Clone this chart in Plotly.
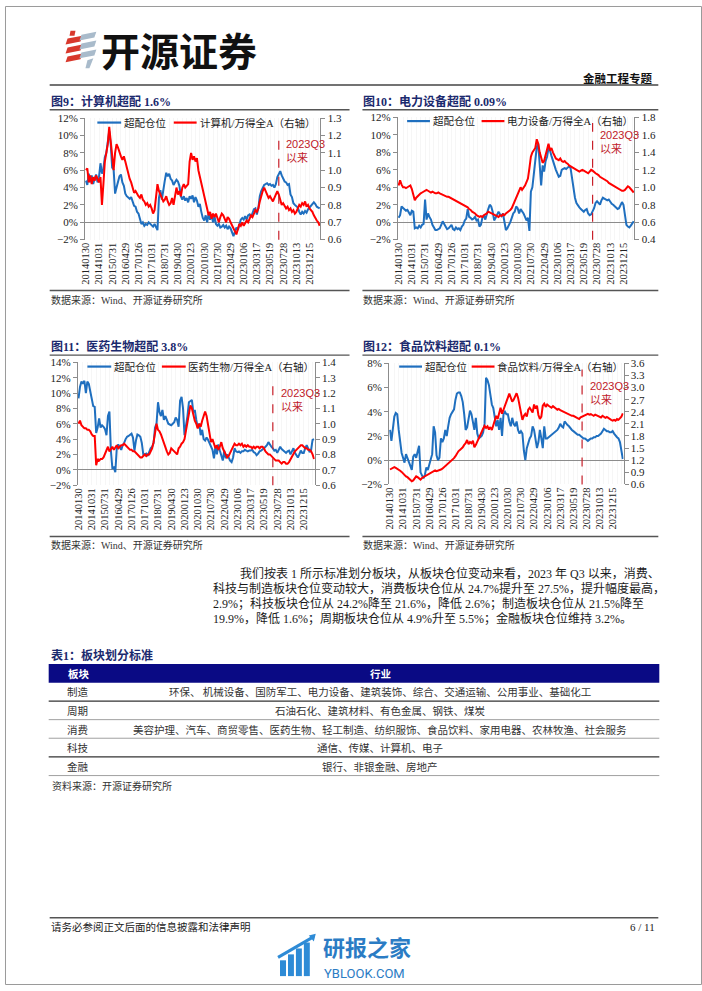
import plotly.graph_objects as go

W, H = 702, 991
def px(x): return x / W
def py(y): return 1 - y / H

SERIF = "Liberation Serif, Noto Sans CJK SC"
SANS = "Liberation Sans, Noto Sans CJK SC"
CJK = "Noto Sans CJK SC"

# ---------------- data ----------------
TICK_LABELS = ["20140130", "20141031", "20150731", "20160429", "20170126", "20171031",
               "20180731", "20190430", "20200123", "20201030", "20210730", "20220429",
               "20230106", "20230317", "20230519", "20230728", "20231013", "20231215"]
TICK_INDEX = [0, 9, 18, 27, 36, 45, 54, 63, 72, 81, 90, 99, 108, 117, 126, 135, 144, 153]
Q3_START_INDEX = 132

COMPUTER_OW = [4.8, 4.3, 5.6, 4.6, 5.4, 4.4, 5.0, 5.5, 4.6,
               5.2, 6.8, 5.6, 6.2, 7.5, 8.0, 9.0, 10.5, 9.0,
               6.3, 6.1, 3.3, 4.0, 4.6, 5.3, 5.5, 4.6, 4.2,
               3.3, 3.0, 2.8, 2.7, 2.9, 2.4, 1.9, 1.8, 1.2,
               1.0, 0.4, -0.2, 0.0, -0.4, -0.2, -0.3, 0.0, -0.2,
               -0.3, -0.5, -0.2, -0.6, -0.9, 2.8, 3.7, 2.6, 4.0,
               4.8, 5.7, 5.3, 5.6, 5.0, 4.8, 4.3, 4.6, 4.9,
               4.7, 4.2, 3.0, 2.6, 3.0, 2.5, 2.8, 2.3, 3.0,
               2.7, 3.1, 2.3, 2.9, 2.5, 1.8, 2.1, 1.2, 0.5,
               0.2, 0.8, 0.0, 1.0, 0.3, 0.9, 0.0, 0.7, -0.2,
               -0.4, -0.2, -0.6, -0.5, -0.3, -0.6, -0.4, -0.8, -0.5,
               -0.7, -1.2, -1.6, -1.1, -0.6, -0.9, -0.2, 0.3, 0.5,
               0.3, 0.7, 0.3, 0.8, 0.9, 0.6, 1.2, 1.5, 1.6,
               0.9, 1.6, 3.0, 3.6, 3.9, 4.3, 4.4, 4.5, 4.3,
               4.4, 4.2, 4.3, 4.0, 4.4, 5.2, 5.6, 5.9, 5.4,
               5.0, 4.7, 4.6, 4.3, 4.4, 3.2, 2.9, 2.2, 2.0,
               1.8, 1.7, 1.2, 0.9, 1.2, 1.0, 1.3, 1.1, 1.5,
               1.7, 1.9, 2.1, 2.3, 2.1, 1.8, 1.7, 1.6]
COMPUTER_REL = [1.00, 1.01, 0.93, 0.97, 0.92, 0.96, 0.94, 0.97, 0.95,
                0.93, 0.96, 0.80, 0.92, 1.05, 1.10, 1.15, 1.25, 1.17,
                1.05, 1.00, 1.10, 1.15, 1.13, 1.10, 1.08, 1.06, 1.08,
                1.05, 1.01, 0.98, 0.95, 0.93, 0.90, 0.87, 0.88, 0.86,
                0.85, 0.84, 0.86, 0.83, 0.82, 0.80, 0.81, 0.79, 0.80,
                0.78, 0.75, 0.77, 0.85, 0.92, 0.88, 0.86, 0.84, 0.82,
                0.83, 0.85, 0.82, 0.80, 0.81, 0.84, 0.80, 0.85, 0.90,
                0.86, 0.88, 0.85, 0.90, 0.92, 0.90, 0.91, 0.92, 1.05,
                1.10, 1.06, 1.08, 1.05, 1.07, 1.00, 0.96, 0.93, 0.88,
                0.84, 0.80, 0.77, 0.74, 0.76, 0.72, 0.75, 0.73, 0.75,
                0.72, 0.70, 0.73, 0.75, 0.74, 0.72, 0.70, 0.73, 0.72,
                0.70, 0.68, 0.66, 0.64, 0.63, 0.66, 0.69, 0.68, 0.70,
                0.68, 0.70, 0.71, 0.70, 0.72, 0.74, 0.73, 0.75, 0.77,
                0.76, 0.78, 0.82, 0.86, 0.88, 0.90, 0.88, 0.86, 0.84,
                0.85, 0.83, 0.82, 0.84, 0.86, 0.88, 0.86, 0.83, 0.80,
                0.81, 0.79, 0.78, 0.79, 0.77, 0.78, 0.76, 0.77, 0.75,
                0.76, 0.78, 0.80, 0.79, 0.81, 0.80, 0.82, 0.79, 0.80,
                0.78, 0.77, 0.76, 0.74, 0.72, 0.71, 0.70, 0.68]

POWER_OW = [0.5, 0.8, 1.8, 1.6, 1.5, 1.3, 1.4, 1.0, 0.8,
            1.3, 1.2, -0.7, -0.6, -0.7, -0.4, -0.6, -0.3, -0.2,
            2.6, 0.3, 1.0, 0.6, 0.3, -0.3, -0.6, -0.9, -0.9,
            -0.8, -0.7, -0.3, 0.1, -0.2, -0.6, -0.8, -0.7, -0.5,
            -0.3, -0.8, -0.9, -0.6, -0.8, -0.7, -0.9, -0.5, -0.3,
            0.2, 0.4, 1.5, 0.6, 0.5, 0.3, 0.4, 0.6, 0.2,
            0.3, -0.5, -0.3, 0.5, 0.8, 0.3, 1.0, 1.5, 2.0,
            1.8, 1.2, 0.2, 0.5, 0.8, 1.2, 0.9, 0.7, 1.0,
            0.2, -0.9, -0.7, -0.4, 0.0, 0.5, 1.0, 1.2, 1.8,
            1.6, 1.0, 1.5, 1.3, 1.0, 0.6, 0.2, 0.5, -1.0,
            3.5, 4.0, 5.5, 7.5, 8.6, 9.0, 7.0, 4.2, 6.5,
            5.8, 7.0, 7.5, 8.5, 8.2, 7.6, 7.0, 6.5, 6.0,
            5.6, 5.2, 5.3, 6.0, 6.1, 6.2, 6.1, 6.3, 6.4,
            6.2, 5.0, 3.6, 2.8, 2.2, 1.9, 1.7, 1.5, 1.3,
            1.2, 1.4, 1.5, 1.0, 0.8, 0.9, 1.2, 1.6, 2.2,
            2.4, 2.2, 2.0, 2.5, 2.8, 2.7, 2.6, 2.5, 2.6,
            2.3, 2.1, 2.0, 1.8, 1.7, 1.5, 1.6, 1.9, 2.3,
            2.0, 0.9, -0.3, -0.5, -0.6, -0.4, -0.1, 0.1]
POWER_REL = [1.02, 1.08, 1.03, 1.00, 1.00, 0.99, 1.00, 1.01, 1.02,
             0.98, 0.92, 0.85, 0.88, 0.90, 0.92, 0.93, 0.94, 0.95,
             0.96, 0.97, 0.96, 0.95, 0.94, 0.95, 0.94, 0.93, 0.93,
             0.94, 0.93, 0.92, 0.91, 0.90, 0.90, 0.89, 0.89, 0.88,
             0.88, 0.87, 0.86, 0.85, 0.84, 0.83, 0.82, 0.81, 0.80,
             0.79, 0.78, 0.77, 0.75, 0.74, 0.72, 0.71, 0.70, 0.68,
             0.67, 0.66, 0.67, 0.66, 0.68, 0.69, 0.70, 0.72, 0.71,
             0.70, 0.70, 0.69, 0.68, 0.67, 0.66, 0.68, 0.67, 0.69,
             0.68, 0.70, 0.71, 0.72, 0.74, 0.76, 0.80, 0.82, 0.86,
             0.90, 0.96, 1.00, 0.97, 0.99, 1.02, 1.06, 1.10, 1.22,
             1.35, 1.40, 1.42, 1.45, 1.55, 1.50, 1.40, 1.33, 1.28,
             1.30, 1.38, 1.45, 1.50, 1.42, 1.45, 1.40, 1.36, 1.33,
             1.32, 1.31, 1.33, 1.30, 1.29, 1.30, 1.28, 1.27, 1.25,
             1.24, 1.23, 1.22, 1.21, 1.20, 1.19, 1.18, 1.19, 1.20,
             1.19, 1.18, 1.17, 1.16, 1.18, 1.20, 1.19, 1.17, 1.16,
             1.15, 1.14, 1.12, 1.11, 1.10, 1.09, 1.08, 1.07, 1.05,
             1.04, 1.03, 1.02, 1.01, 1.00, 0.99, 0.98, 0.97, 0.96,
             0.96, 0.97, 0.99, 1.01, 1.00, 0.98, 0.96, 0.94]

PHARMA_OW = [9.3, 10.8, 11.5, 11.2, 11.6, 10.0, 11.5, 11.2, 10.2,
             9.0, 8.3, 8.2, 4.8, 5.5, 6.7, 5.5, 5.8, 5.6,
             5.3, 4.5, 7.0, 7.6, 2.5, 0.2, 0.3, -0.3, 2.8,
             3.3, 3.0, 2.6, 3.2, 3.5, 4.0, 4.3, 4.4, 4.5,
             4.7, 4.2, 2.5, 3.8, 4.6, 4.5, 4.3, 3.5, 2.0,
             2.0, 2.1, 1.8, 2.3, 2.8, 3.0, 3.5, 5.5, 6.0,
             8.8, 7.5, 7.0, 7.8, 6.5, 7.0, 6.5, 6.0, 5.9,
             5.8, 6.0, 6.2, 6.8, 6.5, 5.6, 9.0, 9.5, 8.0,
             4.5, 5.5, 7.0, 8.8, 9.0, 9.1, 7.5, 7.8, 6.5,
             5.5, 6.0, 4.5, 5.2, 4.0, 3.8, 4.2, 3.9, 3.5,
             3.2, 2.6, 1.5, 3.0, 2.0, 3.3, 2.5, 1.8, 1.2,
             2.5, 1.5, 2.0, 1.5, 1.2, 1.0, 1.6, 2.8, 2.4,
             2.3, 2.4, 2.2, 2.4, 2.4, 2.6, 2.5, 2.4, 2.5,
             2.5, 2.6, 2.3, 2.2, 1.9, 2.1, 2.4, 2.5, 2.6,
             2.8, 3.0, 3.2, 3.6, 3.2, 3.0, 2.8, 2.5, 2.6,
             2.2, 2.6, 3.0, 2.7, 2.5, 2.3, 2.2, 2.4, 2.5,
             2.0, 2.4, 2.8, 2.2, 1.8, 1.6, 2.0, 2.5, 2.2,
             2.2, 2.8, 3.2, 2.8, 2.3, 2.6, 3.9, 4.0]
PHARMA_REL = [1.00, 1.02, 0.99, 0.98, 0.97, 0.97, 0.96, 0.96, 0.95,
              0.93, 0.92, 0.92, 0.73, 0.77, 0.76, 0.77, 0.77, 0.78,
              0.80, 0.82, 0.85, 0.82, 0.84, 0.85, 0.83, 0.85, 0.86,
              0.84, 0.85, 0.86, 0.86, 0.87, 0.86, 0.85, 0.84, 0.83,
              0.83, 0.82, 0.82, 0.81, 0.80, 0.79, 0.78, 0.78, 0.79,
              0.80, 0.79, 0.80, 0.80, 0.82, 0.84, 0.88, 0.95, 1.00,
              0.96, 0.95, 0.93, 0.90, 0.87, 0.85, 0.82, 0.80, 0.81,
              0.84, 0.83, 0.82, 0.81, 0.80, 0.84, 0.85, 0.87, 0.88,
              0.90, 0.96, 1.00, 1.05, 1.12, 1.10, 1.05, 1.02, 1.00,
              0.97, 1.00, 0.98, 1.02, 1.06, 1.08, 1.05, 1.00, 0.95,
              0.88, 0.90, 0.86, 0.84, 0.86, 0.83, 0.85, 0.88, 0.84,
              0.82, 0.80, 0.78, 0.79, 0.81, 0.84, 0.86, 0.87, 0.86,
              0.86, 0.87, 0.86, 0.87, 0.85, 0.86, 0.85, 0.86, 0.85,
              0.85, 0.84, 0.85, 0.84, 0.85, 0.85, 0.84, 0.85, 0.85,
              0.84, 0.82, 0.81, 0.80, 0.80, 0.79, 0.78, 0.77, 0.76,
              0.76, 0.76, 0.75, 0.74, 0.75, 0.75, 0.74, 0.74, 0.75,
              0.77, 0.79, 0.80, 0.82, 0.83, 0.84, 0.85, 0.86, 0.86,
              0.85, 0.84, 0.84, 0.83, 0.83, 0.82, 0.80, 0.77]

FOOD_OW = [2.5, 1.6, 2.6, 3.6, 3.9, 3.8, 2.5, 1.3, 0.6,
           0.2, -0.2, 0.5, 0.2, -0.2, -0.5, -0.8, 0.3, 0.5,
           0.2, 0.6, 1.2, -1.0, -1.3, -1.5, -1.2, -0.6, -0.8,
           -0.3, 0.0, 0.5, 2.8, 2.3, 0.4, 0.0, 0.2, 1.8,
           1.5, 1.8, 2.5, 2.0, 2.8, 3.5, 3.8, 4.0, 4.2,
           5.0, 5.5, 5.6, 5.6, 5.3, 4.8, 3.8, 2.5, 2.7,
           3.5, 4.1, 3.8, 3.0, 2.5, 3.5, 2.2, 1.8, 1.9,
           2.0, 2.3, 3.0, 6.8, 6.6, 6.2, 5.2, 4.6, 4.3,
           3.5, 2.8, 3.3, 2.5, 3.5, 2.0, 3.8, 4.0, 3.8,
           3.8, 3.2, 2.8, 3.5, 3.0, 2.8, 3.2, 2.5, 2.2,
           2.4, 2.2, 0.8, 0.0, 1.0, 1.5, 1.8, 2.0, 2.8,
           2.5, 1.8, 1.0, 1.5, 2.5, 1.8, 1.0, 2.8, 1.8,
           1.8, 1.9, 2.0, 2.1, 2.2, 2.3, 2.4, 2.5, 2.7,
           3.0, 2.8, 2.7, 3.2, 3.0, 2.9, 2.8, 2.6, 2.5,
           2.4, 2.3, 2.2, 2.1, 2.1, 2.0, 1.9, 1.8, 1.8,
           1.7, 1.6, 1.7, 1.8, 1.8, 1.9, 1.9, 2.0, 2.0,
           2.1, 2.2, 2.4, 2.6, 2.5, 2.4, 2.4, 2.3, 2.3,
           2.4, 2.2, 2.0, 1.9, 1.8, 1.5, 0.8, 0.1]
FOOD_REL = [0.97, 0.99, 1.01, 1.03, 1.01, 0.99, 0.98, 0.94, 0.91,
            0.87, 0.84, 0.80, 0.78, 0.75, 0.72, 0.68, 0.70, 0.74,
            0.80, 0.78, 0.74, 0.72, 0.76, 0.78, 0.80, 0.82, 0.84,
            0.85, 0.88, 0.90, 0.92, 0.95, 0.93, 0.94, 0.96, 0.97,
            0.99, 1.02, 1.06, 1.08, 1.12, 1.15, 1.18, 1.20, 1.25,
            1.30, 1.38, 1.42, 1.45, 1.48, 1.52, 1.58, 1.62, 1.70,
            1.60, 1.65, 1.62, 1.68, 1.52, 1.58, 1.65, 1.75, 1.82,
            1.90, 1.98, 2.05, 2.00, 2.04, 1.96, 2.02, 1.95, 2.05,
            2.15, 2.30, 2.22, 2.38, 2.50, 2.35, 2.45, 2.55, 2.65,
            2.72, 2.85, 2.75, 2.65, 2.70, 2.80, 2.86, 2.75, 2.55,
            2.40, 2.20, 2.30, 2.35, 2.28, 2.45, 2.50, 2.42, 2.38,
            2.58, 2.48, 2.55, 2.32, 2.22, 2.28, 2.55, 2.60, 2.52,
            2.58, 2.55, 2.52, 2.50, 2.54, 2.50, 2.48, 2.45, 2.47,
            2.44, 2.42, 2.40, 2.38, 2.36, 2.35, 2.33, 2.32, 2.30,
            2.30, 2.28, 2.26, 2.25, 2.22, 2.26, 2.28, 2.30, 2.32,
            2.33, 2.35, 2.33, 2.34, 2.32, 2.30, 2.33, 2.31, 2.30,
            2.28, 2.26, 2.30, 2.28, 2.25, 2.27, 2.24, 2.22, 2.20,
            2.18, 2.20, 2.18, 2.22, 2.20, 2.24, 2.28, 2.36]

OW_NAME = "超配仓位"
TITLES = ["图9：计算机超配 1.6%", "图10：电力设备超配 0.09%",
          "图11：医药生物超配 3.8%", "图12：食品饮料超配 0.1%"]
REL_NAMES = ["计算机/万得全A（右轴）", "电力设备/万得全A（右轴）",
             "医药生物/万得全A（右轴）", "食品饮料/万得全A（右轴）"]
OW_SERIES = [COMPUTER_OW, POWER_OW, PHARMA_OW, FOOD_OW]
REL_SERIES = [COMPUTER_REL, POWER_REL, PHARMA_REL, FOOD_REL]
LEFT_AXES = [(-2, 12, 2), (-2, 12, 2), (-2, 14, 2), (-2, 8, 2)]
RIGHT_AXES = [(0.6, 1.3, 0.1), (0.4, 1.8, 0.2), (0.6, 1.4, 0.1), (0.6, 3.6, 0.3)]
SOURCE = "数据来源：Wind、开源证券研究所"

PARAGRAPH = ["我们按表 1 所示标准划分板块，从板块仓位变动来看，2023 年 Q3 以来，消费、",
             "科技与制造板块仓位变动较大，消费板块仓位从 24.7%提升至 27.5%，提升幅度最高，",
             "2.9%；科技板块仓位从 24.2%降至 21.6%，降低 2.6%；制造板块仓位从 21.5%降至",
             "19.9%，降低 1.6%；周期板块仓位从 4.9%升至 5.5%；金融板块仓位维持 3.2%。"]
TABLE_TITLE = "表1：板块划分标准"
TABLE_HEAD = ["板块", "行业"]
TABLE_ROWS = [("制造", "环保、 机械设备、国防军工、电力设备、建筑装饰、综合、交通运输、公用事业、基础化工"),
              ("周期", "石油石化、建筑材料、有色金属、钢铁、煤炭"),
              ("消费", "美容护理、汽车、商贸零售、医药生物、轻工制造、纺织服饰、食品饮料、家用电器、农林牧渔、社会服务"),
              ("科技", "通信、传媒、计算机、电子"),
              ("金融", "银行、非银金融、房地产")]
TABLE_SOURCE = "资料来源：开源证券研究所"

# ---------------- layout (pixels) ----------------
PLOT_BOX = [(80.7, 317.7, 113.5, 236.5), (395.7, 634.0, 112.8, 236.5),
            (73.3, 312.0, 360.7, 485.0), (387.0, 623.0, 361.7, 484.3)]
LEGEND_POS = [(93, 117, 118, 119, 170, 193, 195), (405, 428, 116.5, 430, 480, 503, 505),
              (83, 107, 365, 108.5, 158, 182, 183.5), (397, 420, 365, 422, 470, 493, 495)]
Q3_TEXT = [(282, 140, 153), (598, 131, 144), (277, 392, 405), (588, 385, 398)]
Q3_TOP = [0.885, 0.955, 0.853, 0.95]
FRAME = [(45, 347, 97, 105, 288, 298), (360, 658, 97, 105, 288, 298),
         (45, 347, 345, 353.5, 537, 546), (360, 658, 345, 353.5, 537, 546)]

BLUE = "#1F6FBF"
RED = "#FF0000"
NAVY = "#1B2A6E"
AXC = "#8C8C8C"

fig = go.Figure()
shapes, annos = [], []

def text(x, y, s, size, color="#222", family=SERIF, bold=False, xanchor="left", yanchor="middle"):
    annos.append(dict(x=px(x), y=py(y), xref="paper", yref="paper",
                      text=f"<b>{s}</b>" if bold else s, showarrow=False,
                      xanchor=xanchor, yanchor=yanchor, borderpad=0,
                      font=dict(size=size, color=color, family=family)))

def hline(x0, x1, y, color, w, dash="solid"):
    shapes.append(dict(type="line", xref="paper", yref="paper", x0=px(x0), x1=px(x1),
                       y0=py(y), y1=py(y), line=dict(color=color, width=w, dash=dash)))

def rect(x0, x1, y0, y1, fill, line=None):
    shapes.append(dict(type="rect", xref="paper", yref="paper", x0=px(x0), x1=px(x1),
                       y0=py(y1), y1=py(y0), fillcolor=fill,
                       line=dict(width=0) if line is None else line, layer="below"))

def path(d_pts, fill):
    d = "M " + " L ".join(f"{px(a)},{py(b)}" for a, b in d_pts) + " Z"
    shapes.append(dict(type="path", xref="paper", yref="paper", path=d,
                       fillcolor=fill, line=dict(width=0)))

lay = {}
for k in range(4):
    xa = "x" if k == 0 else f"x{k+1}"
    yl_n = 2 * k + 1
    yr_n = 2 * k + 2
    yl = "y" if yl_n == 1 else f"y{yl_n}"
    yr = f"y{yr_n}"
    x0, x1, ytop, ybot = PLOT_BOX[k]
    n = len(OW_SERIES[k])
    cats = list(range(n))

    fig.add_trace(go.Scatter(x=cats, y=OW_SERIES[k], mode="lines", name=OW_NAME,
                             line=dict(color=BLUE, width=2), xaxis=xa, yaxis=yl, showlegend=False))
    fig.add_trace(go.Scatter(x=cats, y=REL_SERIES[k], mode="lines", name=REL_NAMES[k],
                             line=dict(color=RED, width=2), xaxis=xa, yaxis=yr, showlegend=False))

    lay["xaxis" if k == 0 else f"xaxis{k+1}"] = dict(
        domain=[px(x0), px(x1)], anchor=yl, range=[-0.5, n - 0.5],
        tickmode="array", tickvals=TICK_INDEX, ticktext=TICK_LABELS, tickangle=-90,
        tickfont=dict(family=SERIF, size=10.5, color="#222"), showgrid=False,
        zeroline=False, showline=False, ticks="",
        minor=dict(tickmode="linear", tick0=0, dtick=3, showgrid=True,
                   gridcolor="#f6f6f6", gridwidth=1, ticks=""))
    lo, hi, dt = LEFT_AXES[k]
    lay["yaxis" if yl_n == 1 else f"yaxis{yl_n}"] = dict(
        domain=[py(ybot), py(ytop)], anchor=xa, range=[lo, hi], dtick=dt, tick0=0,
        ticksuffix="%", showgrid=False, zeroline=True, zerolinecolor=AXC, zerolinewidth=1,
        showline=True, linecolor=AXC, linewidth=1, ticks="outside", ticklen=4, tickcolor=AXC,
        tickfont=dict(family=SERIF, size=11, color="#222"))
    rlo, rhi, rdt = RIGHT_AXES[k]
    lay[f"yaxis{yr_n}"] = dict(
        overlaying=yl, side="right", anchor=xa, range=[rlo, rhi], dtick=rdt, tick0=rlo,
        tickformat=".1f", showgrid=False, zeroline=False, showline=True, linecolor=AXC,
        linewidth=1, ticks="outside", ticklen=4, tickcolor=AXC,
        tickfont=dict(family=SERIF, size=11, color="#222"))

    shapes.append(dict(type="line", xref=xa, yref=f"{yl} domain", x0=Q3_START_INDEX,
                       x1=Q3_START_INDEX, y0=0, y1=Q3_TOP[k],
                       line=dict(color="#C8202A", width=1.2, dash="dash")))
    tx, ty1, ty2 = Q3_TEXT[k]
    text(tx, ty1, "2023Q3", 11, color="#C0202A", family=SANS)
    text(tx, ty2, "以来", 11, color="#C0202A", family=CJK)

    bx0, bx1, ly, btx, rx0, rx1, rtx = LEGEND_POS[k]
    hline(bx0, bx1, ly, BLUE, 2.2)
    text(btx, ly, OW_NAME, 10.5, family=SERIF)
    hline(rx0, rx1, ly, RED, 2.2)
    text(rtx, ly, REL_NAMES[k], 10.5, family=SERIF)

    fx0, fx1, ttl_y, top_rule, bot_rule, src_y = FRAME[k]
    text(fx0, ttl_y, TITLES[k], 12, color=NAVY, family=SERIF, bold=True)
    hline(fx0, fx1, top_rule, "#555555", 1.3)
    hline(fx0, fx1, bot_rule, "#555555", 1.3)
    text(fx0, src_y, SOURCE, 10, color="#333", family=SERIF)

# ---------------- header ----------------
path([(66, 25), (71, 25), (70, 30), (65, 30)], "#D8382C")
for yy in (33, 42, 51):
    path([(63, yy), (78, yy - 3), (76, yy + 3), (61, yy + 6)], "#D8382C")
for yy in (29, 38, 47):
    path([(77, yy), (92, yy - 3), (90, yy + 3), (75, yy + 6)], "#A9BBCB")
path([(83, 55), (89, 53), (85, 63), (81, 63)], "#A9BBCB")
text(96, 43.5, "开源证券", 39, color="#111111", family=CJK, bold=True)
text(653, 72.5, "金融工程专题", 11.5, color="#111", family=CJK, bold=True, xanchor="right")
hline(45, 658, 80, "#444444", 1.6)

# ---------------- paragraph ----------------
PARA_POS = [(236, 574), (208, 589.3), (208, 604.5), (208, 619.7)]
for (x, y), line in zip(PARA_POS, PARAGRAPH):
    text(x, y, line, 12, color="#1a1a1a", family=SERIF)

# ---------------- table ----------------
text(45, 657.7, TABLE_TITLE, 12, color=NAVY, family=SERIF, bold=True)
rect(44, 659, 666, 685, "#0A0A84")
text(62, 675.7, TABLE_HEAD[0], 10.5, color="white", family=CJK, bold=True)
text(378, 675.7, TABLE_HEAD[1], 10.5, color="white", family=CJK, bold=True, xanchor="center")
ROW_Y = [694.3, 713.2, 732.1, 751.0, 769.8]
RULES = [(703.7, "#333333", 1.2), (722.4, "#A0A0A0", 1), (741.2, "#A0A0A0", 1),
         (760.0, "#333333", 1.2), (779.0, "#A0A0A0", 1)]
for (lab, cont), y in zip(TABLE_ROWS, ROW_Y):
    text(61, y, lab, 10.5, color="#333", family=CJK)
    text(378, y, cont, 10.5, color="#333", family=CJK, xanchor="center")
for y, c, w in RULES:
    hline(44, 659, y, c, w)
text(46, 789, TABLE_SOURCE, 10, color="#333", family=CJK)

# ---------------- footer ----------------
hline(45, 658, 923, "#555555", 1.6)
text(45, 932, "请务必参阅正文后面的信息披露和法律声明", 10.5, color="#222", family=CJK)
text(656, 932, "6 / 11", 11, color="#222", family=SERIF, xanchor="right")
for bx, top in ((277, 966), (285, 960), (293, 954), (301, 948)):
    rect(bx, bx + 6, top, 982, "#2E8BD6")
shapes.append(dict(type="line", xref="paper", yref="paper", x0=px(275), y0=py(963),
                   x1=px(311), y1=py(942), line=dict(color="#2E8BD6", width=3)))
path([(313, 939), (306, 941), (311, 947)], "#2E8BD6")
text(319, 951.5, "研报之家", 22, color="#2B7CC4", family=CJK, bold=True)
text(320, 979.5, "YBLOOK.COM", 13, color="#2B7CC4", family="Roboto")

shapes.append(dict(type="rect", xref="paper", yref="paper", x0=px(0.5), x1=px(701.5),
                   y0=py(990.5), y1=py(0.5), line=dict(color="#9a9a9a", width=1)))

fig.update_layout(width=W, height=H, margin=dict(l=0, r=0, t=0, b=0), autosize=False,
                  paper_bgcolor="white", plot_bgcolor="white", showlegend=False,
                  shapes=shapes, annotations=annos, **lay)
fig.write_html("out.html")
